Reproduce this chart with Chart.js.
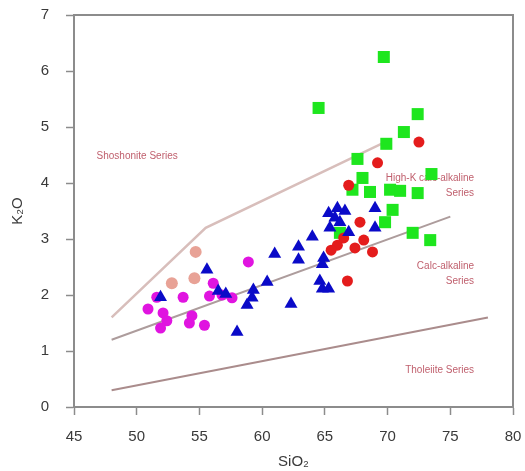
<!DOCTYPE html>
<html>
<head>
<meta charset="utf-8">
<script src="https://cdn.jsdelivr.net/npm/chart.js@4"></script>
<style>
  body { margin: 0; background: #fff; }
  #wrap { width: 525px; height: 471px; }
</style>
</head>
<body>
<div id="wrap"><canvas id="myChart"></canvas></div>
<script>
// SiO2 (x) vs K2O (y), wt%
const pinkSiO2 = [54.7, 52.8, 54.6];
const pinkK2O  = [2.77, 2.21, 2.30];

const magentaSiO2 = [50.9, 52.1, 52.4, 51.9, 53.7, 54.4, 54.2, 55.4, 58.9, 56.1, 55.8, 56.8, 57.6, 51.6];
const magentaK2O  = [1.75, 1.68, 1.54, 1.41, 1.96, 1.63, 1.50, 1.46, 2.59, 2.21, 1.98, 2.00, 1.95, 1.96];

const blueSiO2 = [55.6, 51.9, 56.5, 57.1, 58.0, 58.8, 59.2, 59.3, 60.4, 61.0, 62.3, 62.9, 62.9, 64.0,
                  64.9, 64.8, 64.6, 64.8, 65.3, 65.3, 65.8, 66.2, 66.6, 65.4, 66.9, 69.0, 69.0, 66.0];
const blueK2O  = [2.45, 1.96, 2.07, 2.02, 1.34, 1.82, 1.95, 2.09, 2.23, 2.73, 1.84, 2.63, 2.86, 3.04,
                  2.66, 2.55, 2.25, 2.11, 2.11, 3.46, 3.38, 3.30, 3.50, 3.20, 3.12, 3.55, 3.20, 3.55];

const redSiO2 = [72.5, 69.2, 66.9, 67.8, 68.1, 67.4, 68.8, 66.0, 65.5, 66.8, 66.5];
const redK2O  = [4.73, 4.36, 3.96, 3.30, 2.98, 2.84, 2.77, 2.89, 2.80, 2.25, 3.02];

const greenSiO2 = [69.7, 64.5, 72.4, 71.3, 69.9, 67.6, 73.5, 68.0, 67.2, 68.6, 70.2, 71.0, 72.4,
                   70.4, 69.8, 72.0, 73.4, 66.2];
const greenK2O  = [6.25, 5.34, 5.23, 4.91, 4.70, 4.43, 4.16, 4.09, 3.88, 3.84, 3.88, 3.86, 3.82,
                   3.52, 3.30, 3.11, 2.98, 3.11];

// series boundaries
const shoshoniteSiO2 = [48, 55.5, 69.5];
const shoshoniteK2O  = [1.6, 3.2, 4.7];
const highKSiO2 = [48, 75];
const highKK2O  = [1.2, 3.4];
const tholeiiteSiO2 = [48, 78];
const tholeiiteK2O  = [0.3, 1.6];

const xTicks = [45, 50, 55, 60, 65, 70, 75, 80];
const yTicks = [0, 1, 2, 3, 4, 5, 6, 7];

const toPoints = (xs, ys) => xs.map((x, i) => ({ x: x, y: ys[i] }));

function pointSet(label, xs, ys, color, style, radius) {
  return {
    label: label,
    data: toPoints(xs, ys),
    showLine: false,
    pointStyle: style,
    pointRadius: radius,
    pointHoverRadius: radius,
    backgroundColor: color,
    borderColor: color,
    borderWidth: 0
  };
}

function lineSet(label, xs, ys, color, width) {
  return {
    label: label,
    data: toPoints(xs, ys),
    showLine: true,
    pointRadius: 0,
    borderColor: color,
    borderWidth: width,
    fill: false
  };
}

const seriesNames = [
  { text: ['Shoshonite Series'], x: 46.8, y: 4.48, align: 'left' },
  { text: ['High-K calc-alkaline', 'Series'], x: 76.9, y: 4.09, align: 'right' },
  { text: ['Calc-alkaline', 'Series'], x: 76.9, y: 2.52, align: 'right' },
  { text: ['Tholeiite Series'], x: 76.9, y: 0.66, align: 'right' }
];

// frame around the plot plus the series names
const decorations = {
  id: 'decorations',
  beforeDatasetsDraw(chart) {
    const c = chart.ctx;
    const xs = chart.scales.x, ys = chart.scales.y;
    c.save();
    c.font = '10px "Liberation Sans", Arial, sans-serif';
    c.fillStyle = '#c0606e';
    c.textBaseline = 'middle';
    seriesNames.forEach(n => {
      c.textAlign = n.align;
      n.text.forEach((t, i) => {
        c.fillText(t, xs.getPixelForValue(n.x), ys.getPixelForValue(n.y) + i * 15);
      });
    });
    c.restore();
  },
  afterDraw(chart) {
    const a = chart.chartArea;
    const c = chart.ctx;
    c.save();
    c.strokeStyle = '#8c8c8c';
    c.lineWidth = 2;
    c.strokeRect(a.left, a.top, a.right - a.left, a.bottom - a.top);
    c.restore();
  }
};

const ctx = document.getElementById('myChart').getContext('2d');

new Chart(ctx, {
  type: 'scatter',
  data: {
    datasets: [
      pointSet('Triangles', blueSiO2, blueK2O, '#0a0ac8', 'triangle', 7.5),
      pointSet('Red', redSiO2, redK2O, '#e41c1c', 'circle', 5.5),
      pointSet('Squares', greenSiO2, greenK2O, '#1ee61e', 'rect', 8.5),
      pointSet('Magenta', magentaSiO2, magentaK2O, '#e014e0', 'circle', 5.5),
      pointSet('Pink', pinkSiO2, pinkK2O, '#e8a296', 'circle', 6),
      lineSet('Shoshonite', shoshoniteSiO2, shoshoniteK2O, '#d8bebb', 2.5),
      lineSet('High-K', highKSiO2, highKK2O, '#ad9c9c', 2),
      lineSet('Tholeiite', tholeiiteSiO2, tholeiiteK2O, '#aa8c8c', 2)
    ]
  },
  options: {
    responsive: true,
    maintainAspectRatio: false,
    animation: false,
    layout: { padding: { top: 15, right: 12, bottom: 0, left: 0 } },
    plugins: {
      legend: { display: false },
      tooltip: { enabled: false }
    },
    scales: {
      x: {
        type: 'linear',
        min: 45,
        max: 80,
        afterBuildTicks: s => { s.ticks = xTicks.map(v => ({ value: v })); },
        afterFit: s => { s.height = 64; s.paddingLeft = 0; s.paddingRight = 0; },
        grid: { drawOnChartArea: false, tickLength: 8, tickColor: '#8c8c8c', tickWidth: 1.5 },
        border: { color: '#8c8c8c', width: 2 },
        ticks: {
          color: '#3a3a3a',
          padding: 13,
          font: { family: '"Liberation Sans", Arial, sans-serif', size: 15 }
        },
        title: {
          display: true,
          text: 'SiO₂',
          color: '#3a3a3a',
          padding: { top: 0, bottom: 0 },
          font: { family: '"Liberation Sans", Arial, sans-serif', size: 15 }
        }
      },
      y: {
        type: 'linear',
        min: 0,
        max: 7,
        afterBuildTicks: s => { s.ticks = yTicks.map(v => ({ value: v })); },
        afterFit: s => { s.width = 74; s.paddingTop = 0; s.paddingBottom = 0; },
        grid: { drawOnChartArea: false, tickLength: 8, tickColor: '#8c8c8c', tickWidth: 1.5 },
        border: { color: '#8c8c8c', width: 2 },
        ticks: {
          color: '#3a3a3a',
          padding: 17,
          font: { family: '"Liberation Sans", Arial, sans-serif', size: 15 }
        },
        title: {
          display: true,
          text: 'K₂O',
          color: '#3a3a3a',
          padding: { top: 9, bottom: 0 },
          font: { family: '"Liberation Sans", Arial, sans-serif', size: 15 }
        }
      }
    }
  },
  plugins: [decorations]
});
</script>
</body>
</html>
